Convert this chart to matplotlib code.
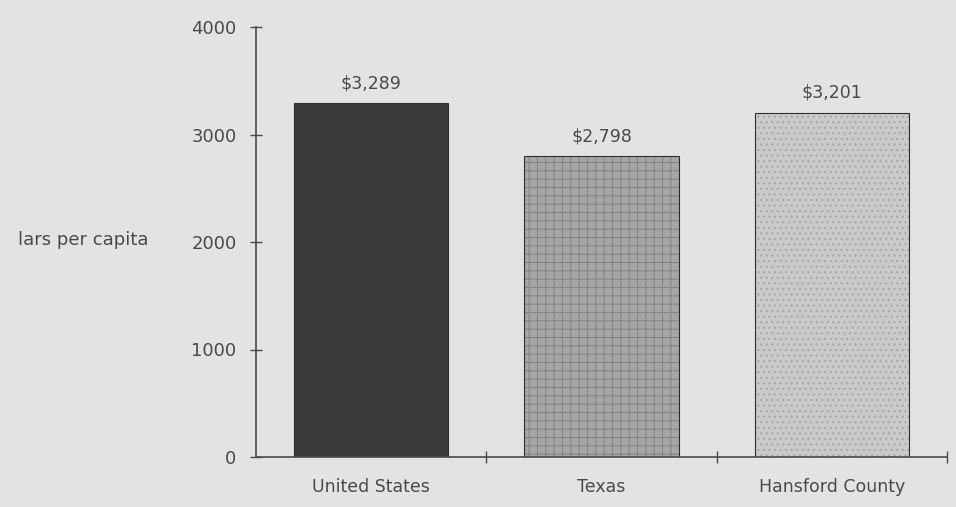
"""
Per capita figure (dollars) for United States, Texas and Hansford County,
redrawn as a bar chart in the style of an old scanned report page.
"""

import matplotlib.pyplot as plt
import numpy as np

regions = ['United States', 'Texas', 'Hansford County']
per_capita = [3289, 2798, 3201]
value_labels = ['$3,289', '$2,798', '$3,201']
y_ticks = [0, 1000, 2000, 3000, 4000]

bar_colors = ['#3a3a3a', '#a6a6a6', '#cacaca']
bar_hatches = [None, '++', '...']
hatch_colors = [None, (0.52, 0.52, 0.52, 1.0), (0.66, 0.66, 0.66, 1.0)]
paper = '#e3e3e1'
ink = '#4a4a4a'

plt.rcParams['font.family'] = ['DejaVu Sans']
plt.rcParams['hatch.linewidth'] = 0.8

fig = plt.figure(figsize=(9.56, 5.07), dpi=100, facecolor=paper)
ax = fig.add_axes([256 / 956, 50 / 507, 691 / 956, 430 / 507])
ax.set_facecolor(paper)

x_positions = np.arange(len(regions)) + 0.5
bars = ax.bar(x_positions, per_capita, width=0.67, color=bar_colors,
              edgecolor='#2e2e2e', linewidth=0.8)
for bar, hatch, hcolor in zip(bars, bar_hatches, hatch_colors):
    if hatch:
        bar.set_hatch(hatch)
        bar._hatch_color = hcolor

for x, value, label in zip(x_positions, per_capita, value_labels):
    ax.annotate(label, (x, value), xytext=(0, 8), textcoords='offset points',
                ha='center', va='bottom', fontsize=12.5, color=ink)

ax.set_xlim(0, 3)
ax.set_ylim(0, 4000)

ax.set_yticks(y_ticks)
ax.set_yticklabels([str(t) for t in y_ticks], fontsize=13, color=ink)
ax.tick_params(axis='y', direction='inout', length=8, width=1, color=ink, pad=10)

ax.set_xticks([1, 2, 3])
ax.set_xticklabels([])
ax.tick_params(axis='x', which='major', direction='inout', length=8,
               width=1, color=ink)
ax.set_xticks(x_positions, minor=True)
ax.set_xticklabels(regions, minor=True, fontsize=12.5, color=ink)
ax.tick_params(axis='x', which='minor', length=0, pad=15)

for side in ['top', 'right']:
    ax.spines[side].set_visible(False)
for side in ['left', 'bottom']:
    ax.spines[side].set_color(ink)
    ax.spines[side].set_linewidth(1.2)

fig.text(18 / 956, 1 - 240 / 507, 'lars per capita', ha='left', va='center',
         fontsize=13, color=ink)

plt.savefig('out.png', dpi=100, facecolor=paper)
